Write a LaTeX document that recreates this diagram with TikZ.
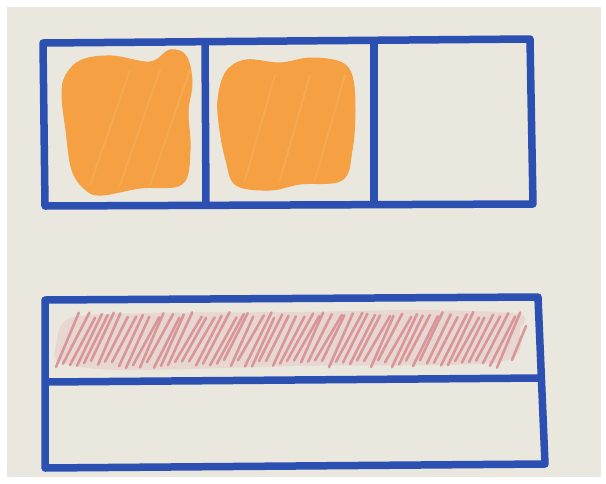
\documentclass[tikz,border=0pt]{standalone}
\definecolor{paper}{HTML}{E9E7DE}
\definecolor{pen}{HTML}{2C4FB2}
\definecolor{orng}{HTML}{F4A043}
\definecolor{orngl}{HTML}{F7B866}
\definecolor{hatch}{HTML}{D6868A}
\definecolor{hatchbg}{HTML}{E8C9C6}
\tikzset{
  frame/.style={draw=pen, line width=7.5pt, line cap=round, line join=round},
  blob/.style={fill=orng, draw=orng, line width=1pt},
  streak/.style={draw=orngl, line width=2pt, opacity=0.45, line cap=round},
  hatchline/.style={draw=hatch, line width=2.6pt, line cap=round, opacity=0.8}
}
\begin{document}
\begin{tikzpicture}[x=1pt,y=-1pt]
\useasboundingbox (0,0) rectangle (606,483);
\fill[white] (0,0) rectangle (606,483);
\fill[paper] (7,7) rectangle (601,477);
% orange blobs
\path[blob] plot[smooth cycle, tension=0.6] coordinates {(66,75) (82,60) (112,56) (150,62) (170,50) (186,56) (192,82) (188,112) (190,150) (182,184) (140,188) (102,195) (86,190) (72,170) (66,130) (62,95)};
\path[blob] plot[smooth cycle, tension=0.6] coordinates {(226,72) (246,60) (280,63) (310,58) (340,62) (352,76) (355,110) (352,150) (342,180) (300,184) (270,190) (236,185) (226,160) (220,130) (218,100)};
\foreach \x in {90,120,150}{\draw[streak] (\x,185) -- (\x+40,70);}
\foreach \x in {245,280,315}{\draw[streak] (\x,180) -- (\x+30,75);}
% red hatching
\fill[hatchbg, opacity=0.5] plot[smooth cycle, tension=0.5] coordinates {(56,345) (70,318) (150,313) (300,312) (420,310) (518,314) (520,330) (500,362) (300,366) (120,370) (60,362)};
\pgfmathsetseed{7}
\foreach \x in {56,63,...,500}{
  \pgfmathsetmacro{\ya}{360+rnd*8}
  \pgfmathsetmacro{\yb}{312+rnd*6}
  \pgfmathsetmacro{\dx}{22+rnd*5}
  \draw[hatchline] (\x,\ya) -- (\x+\dx,\yb);}
\draw[hatchline] (512,360) -- (526,326);
% top box
\draw[frame] (43,43) -- (530,39) -- (533,204) -- (45,206) -- cycle;
\draw[frame] (205,42) -- (206,204);
\draw[frame] (374,41) -- (374,203);
% bottom box
\draw[frame] (45,300) -- (538,297) -- (545,464) -- (45,468) -- cycle;
\draw[frame] (47,382) -- (541,378);
\end{tikzpicture}
\end{document}
